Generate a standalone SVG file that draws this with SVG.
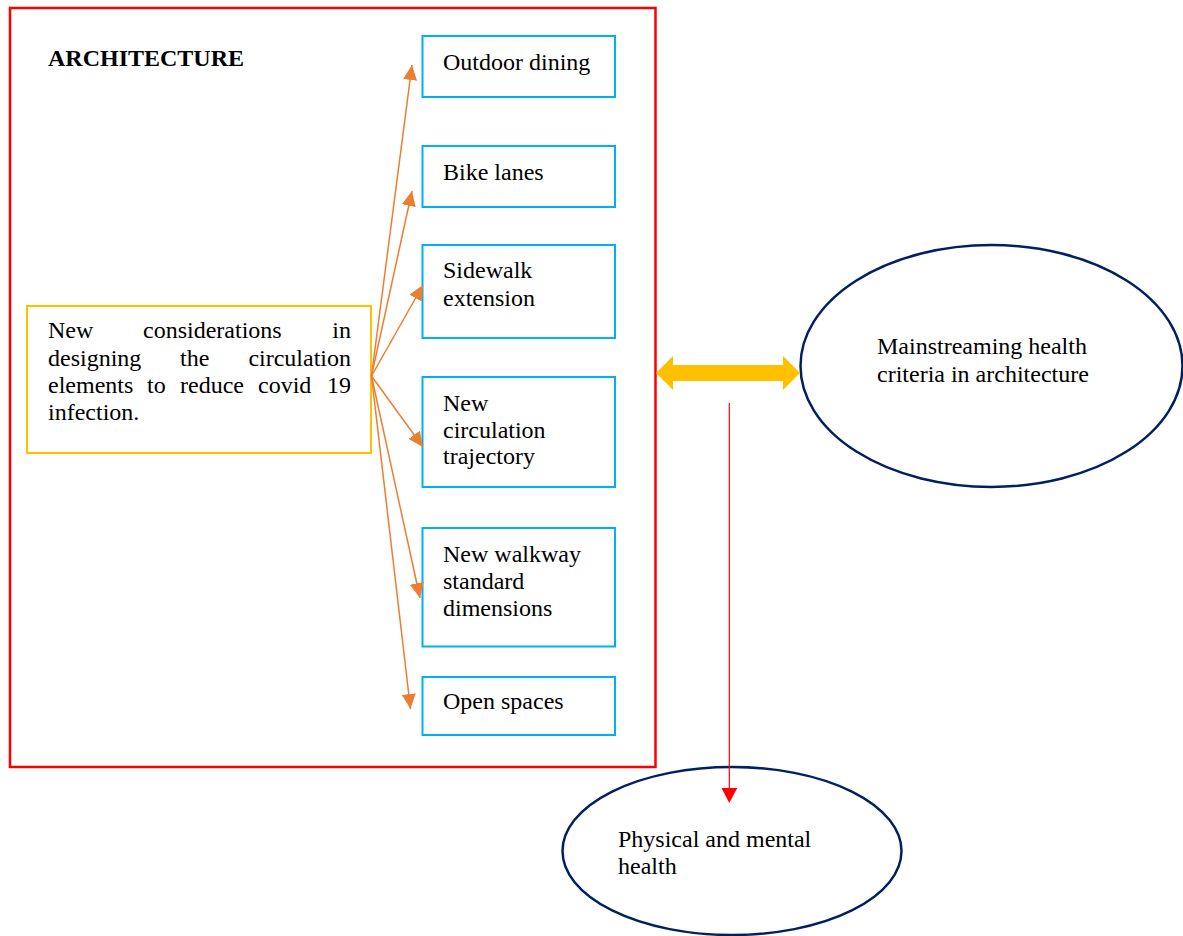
<svg xmlns="http://www.w3.org/2000/svg" width="1183" height="936" viewBox="0 0 1183 936">
<style>
text{font-family:"Liberation Serif","Times New Roman",serif;font-size:24px;fill:#000}
.b{font-weight:bold}
.blue{fill:#fff;stroke:#00b0f0;stroke-width:2}
.ell{fill:#fff;stroke:#002060;stroke-width:2.5}
.oc{stroke:#ed7d31;stroke-width:1.5;fill:none}
</style>
<defs>
<marker id="oa" markerUnits="userSpaceOnUse" markerWidth="16" markerHeight="14" refX="15" refY="7" orient="auto">
<path d="M0,0 L15,7 L0,14 Z" fill="#ed7d31"/>
</marker>
</defs>
<rect width="1183" height="936" fill="#fff"/>
<g id="architecture">
<rect x="10" y="8" width="645.5" height="759" fill="none" stroke="#ff0000" stroke-width="2.5"/>
<text x="48" y="66" class="b">ARCHITECTURE</text>
</g>
<g id="main-consideration">
<rect x="27" y="306" width="344" height="147" fill="#fff" stroke="#ffc000" stroke-width="2"/>
<text x="48" y="338">New</text>
<text x="143" y="338">considerations</text>
<text x="351" y="338" text-anchor="end">in</text>
<text x="48" y="366">designing</text>
<text x="180" y="366">the</text>
<text x="351" y="366" text-anchor="end">circulation</text>
<text x="48" y="393">elements</text>
<text x="147" y="393">to</text>
<text x="180" y="393">reduce</text>
<text x="258" y="393">covid</text>
<text x="351" y="393" text-anchor="end">19</text>
<text x="48" y="420">infection.</text>
</g>
<g id="outdoor-dining">
<rect class="blue" x="422.5" y="36" width="192.5" height="61"/>
<text x="443" y="70">Outdoor dining</text>
</g>
<g id="bike-lanes">
<rect class="blue" x="422.5" y="146" width="192.5" height="61"/>
<text x="443" y="180">Bike lanes</text>
</g>
<g id="sidewalk-extension">
<rect class="blue" x="422.5" y="245" width="192.5" height="93"/>
<text x="443" y="278">Sidewalk</text>
<text x="443" y="306">extension</text>
</g>
<g id="new-circulation-trajectory">
<rect class="blue" x="422.5" y="377" width="192.5" height="110"/>
<text x="443" y="411">New</text>
<text x="443" y="438">circulation</text>
<text x="443" y="464">trajectory</text>
</g>
<g id="new-walkway">
<rect class="blue" x="422.5" y="528" width="192.5" height="118.5"/>
<text x="443" y="562">New walkway</text>
<text x="443" y="589">standard</text>
<text x="443" y="616">dimensions</text>
</g>
<g id="open-spaces">
<rect class="blue" x="422.5" y="677" width="192.5" height="58"/>
<text x="443" y="709">Open spaces</text>
</g>
<g id="mainstreaming">
<ellipse class="ell" cx="991.5" cy="366" rx="191" ry="121"/>
<text x="877" y="354">Mainstreaming health</text>
<text x="877" y="382">criteria in architecture</text>
</g>
<g id="physical-mental-health">
<ellipse class="ell" cx="732" cy="851" rx="169.5" ry="84"/>
<text x="618" y="847">Physical and mental</text>
<text x="618" y="874">health</text>
</g>
<g id="connectors">
<line class="oc" x1="371.5" y1="376" x2="412" y2="65" marker-end="url(#oa)"/>
<line class="oc" x1="371.5" y1="376" x2="412" y2="191" marker-end="url(#oa)"/>
<line class="oc" x1="371.5" y1="376" x2="423" y2="285" marker-end="url(#oa)"/>
<line class="oc" x1="371.5" y1="376" x2="423" y2="447" marker-end="url(#oa)"/>
<line class="oc" x1="371.5" y1="376" x2="420" y2="598" marker-end="url(#oa)"/>
<line class="oc" x1="371.5" y1="376" x2="410.5" y2="709" marker-end="url(#oa)"/>
<polygon points="656,373 673,356 673,365 783,365 783,356 800,373 783,390 783,381 673,381 673,390" fill="#ffc000"/>
<line x1="729.3" y1="403" x2="729.3" y2="789" stroke="#ff0000" stroke-width="1.2"/>
<polygon points="721.5,788 737.3,788 729.3,803" fill="#ff0000"/>
</g>
</svg>
